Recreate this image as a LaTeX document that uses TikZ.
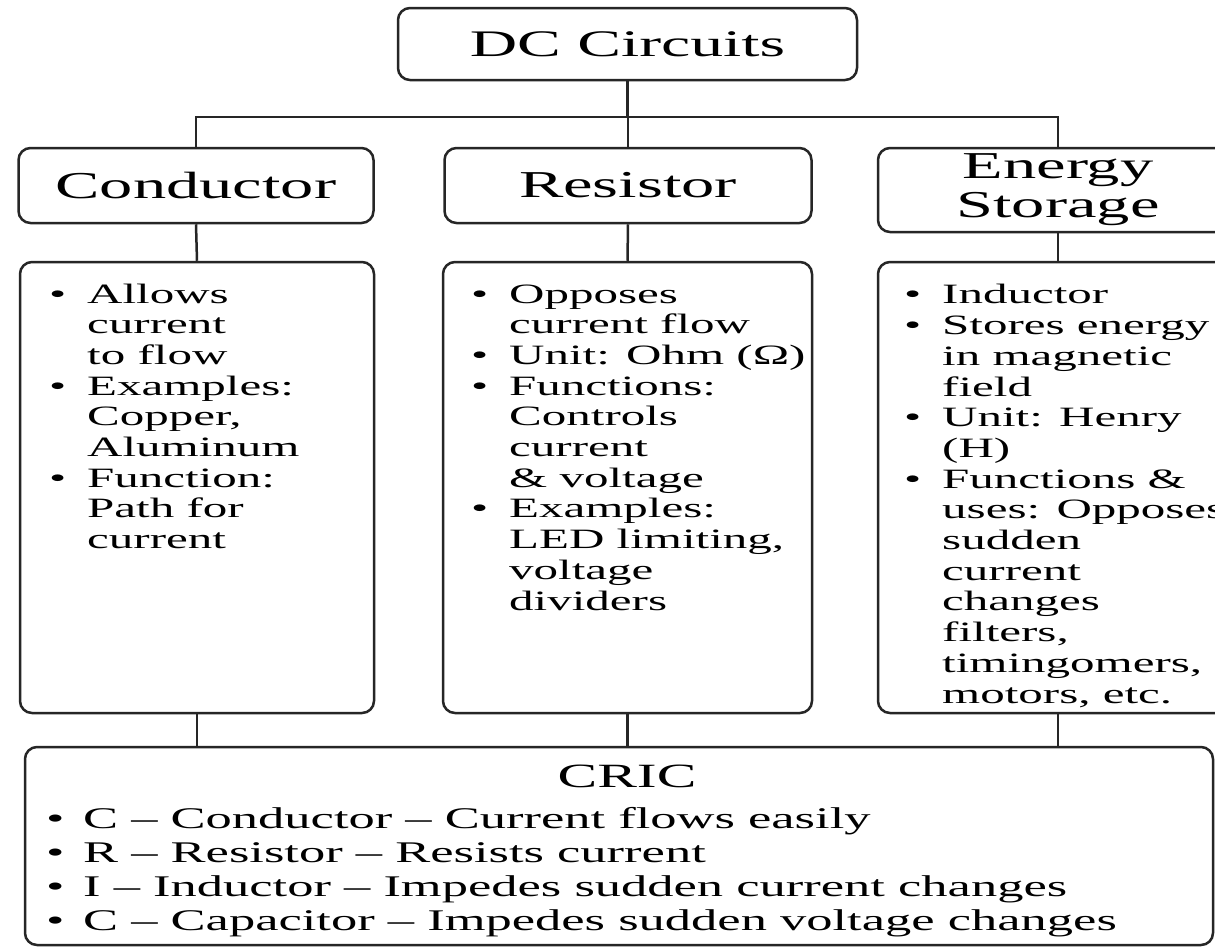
\documentclass[tikz,border=0pt]{standalone}
\usepackage{fontspec}
\setmainfont{Liberation Serif}[FakeStretch=1.75]
\newcommand\bulA{\makebox[38pt][l]{•}}
\newcommand\conA{\hspace*{38pt}}
\newcommand\bulB{\makebox[37pt][l]{•}}
\tikzset{
  box/.style={draw=black!85, line width=2.5pt, rounded corners=12pt, inner sep=0pt},
  link/.style={draw=black!85, line width=2.5pt},
  headfont/.style={font=\fontsize{38}{39}\selectfont, align=center},
  bodytext/.style={font=\fontsize{28}{30.7}\selectfont, align=left, anchor=base west, inner sep=0pt},
  bottomtext/.style={font=\fontsize{30}{34}\selectfont, align=left, anchor=base west, inner sep=0pt}
}
\begin{document}
\begin{tikzpicture}[x=1pt,y=-1pt]
\clip (0,0) rectangle (1215,946);
\fill[white] (0,0) rectangle (1215,946);
% top
\node[box, headfont, font=\fontsize{37.5}{39}\selectfont, minimum width=459pt, minimum height=72pt] (dc) at (627.5,44) {DC Circuits};
% headers
\node[box, headfont, minimum width=355pt, minimum height=75pt] (cond) at (196,185.5) {Conductor};
\node[box, headfont, minimum width=367pt, minimum height=75pt] (res) at (628,185.5) {Resistor};
\node[box, headfont, minimum width=360pt, minimum height=84pt] (ener) at (1058,190) {Energy\\Storage};
% content boxes
\node[box, minimum width=354pt, minimum height=451pt] (condc) at (197,487.5) {};
\node[box, minimum width=369pt, minimum height=451pt] (resc) at (627.5,487.5) {};
\node[box, minimum width=360pt, minimum height=451pt] (enerc) at (1058,487.5) {};
% bottom box
\node[box, minimum width=1188pt, minimum height=198pt] (cric) at (619,846) {};
% connectors
\coordinate (bus) at (627.5,117);
\draw[link] (dc.south) -- (bus);
\draw[link] (cond.north) |- (bus) -| (ener.north);
\draw[link] (res.north) -- (res.north |- bus);
\draw[link] (cond.south) -- (condc.north);
\draw[link] (res.south) -- (resc.north);
\draw[link] (ener.south) -- (enerc.north);
\draw[link] (condc.south) -- (condc.south |- cric.north);
\draw[link] (resc.south) -- (resc.south |- cric.north);
\draw[link] (enerc.south) -- (enerc.south |- cric.north);
% content texts (base anchor = baseline of last line)
\node[bodytext] (condt) at (49,548.6) {\bulA Allows\\ \conA current\\ \conA to flow\\
\bulA Examples:\\ \conA Copper,\\ \conA Aluminum\\
\bulA Function:\\ \conA Path for\\ \conA current};
\node[bodytext] (rest) at (471,610) {\bulA Opposes\\ \conA current flow\\
\bulA Unit: Ohm (Ω)\\
\bulA Functions:\\ \conA Controls\\ \conA current\\ \conA \& voltage\\
\bulA Examples:\\ \conA LED limiting,\\ \conA voltage\\ \conA dividers};
\node[bodytext] (enert) at (904,703) {\bulA Inductor\\
\bulA Stores energy\\ \conA in magnetic\\ \conA field\\
\bulA Unit: Henry\\ \conA (H)\\
\bulA Functions \&\\ \conA uses: Opposes\\ \conA sudden\\ \conA current\\ \conA changes\\ \conA filters,\\ \conA timingomers,\\ \conA motors, etc.};
% bottom texts
\node[font=\fontsize{34}{36}\selectfont, anchor=base, inner sep=0pt] (crict) at (627,787) {CRIC};
\node[bottomtext] (cricl) at (46,930) {\bulB C – Conductor – Current flows easily\\
\bulB R – Resistor – Resists current\\
\bulB I – Inductor – Impedes sudden current changes\\
\bulB C – Capacitor – Impedes sudden voltage changes};
\end{tikzpicture}
\end{document}
